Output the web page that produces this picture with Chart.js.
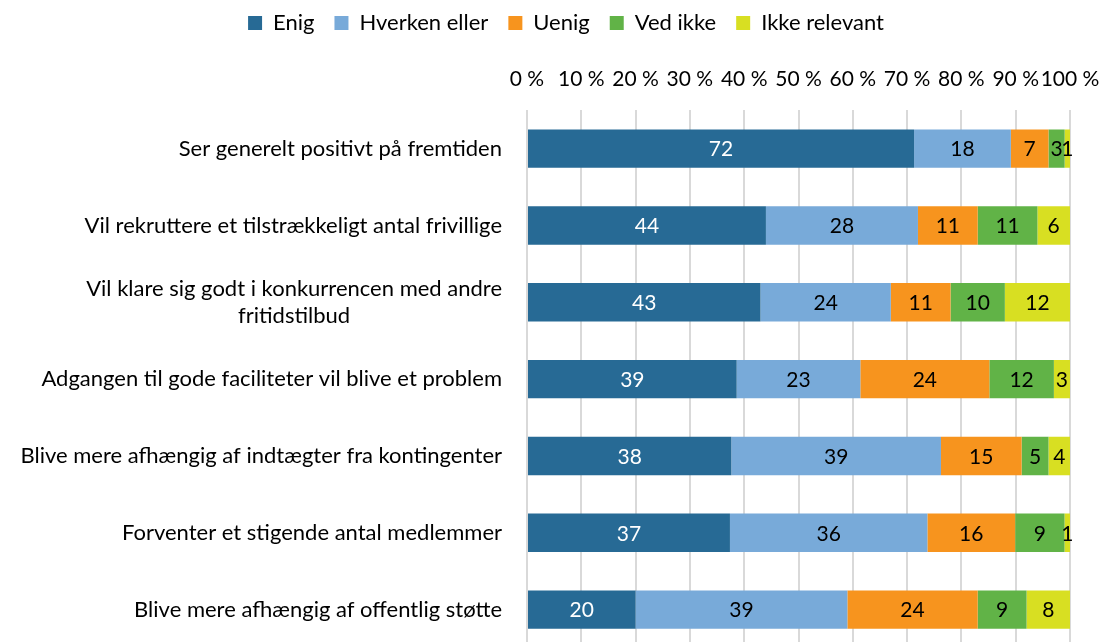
<!DOCTYPE html>
<html>
<head>
<meta charset="utf-8">
<script src="https://cdn.jsdelivr.net/npm/chart.js@4"></script>
<style>
  html, body { margin: 0; padding: 0; background: #fff; overflow: hidden; }
  #wrap { width: 1102px; height: 648px; position: relative; }
</style>
</head>
<body>
<div id="wrap"><canvas id="chart"></canvas></div>
<script>
const categories = [
    'Ser generelt positivt på fremtiden',
    'Vil rekruttere et tilstrækkeligt antal frivillige',
    ['Vil klare sig godt i konkurrencen med andre', 'fritidstilbud'],
    'Adgangen til gode faciliteter vil blive et problem',
    'Blive mere afhængig af indtægter fra kontingenter',
    'Forventer et stigende antal medlemmer',
    'Blive mere afhængig af offentlig støtte'
];
const seriesNames = ['Enig', 'Hverken eller', 'Uenig', 'Ved ikke', 'Ikke relevant'];
const enig = [72, 44, 43, 39, 38, 37, 20];
const hverken = [18, 28, 24, 23, 39, 36, 39];
const uenig = [7, 11, 11, 24, 15, 16, 24];
const vedIkke = [3, 11, 10, 12, 5, 9, 9];
const ikkeRelevant = [1, 6, 12, 3, 4, 1, 8];
const tickLabels = ['0 %', '10 %', '20 %', '30 %', '40 %', '50 %', '60 %', '70 %', '80 %', '90 %', '100 %'];

const colors = ['#276a95', '#78aad9', '#f7941e', '#61b347', '#d8df22'];
const FONT = 'Lato, "Open Sans", sans-serif';

const raw = [enig, hverken, uenig, vedIkke, ikkeRelevant];
// 100 % stacked: each row scaled to its own total, like the original
const totals = categories.map((c, i) => raw.reduce((s, arr) => s + arr[i], 0));

const datasets = raw.map((arr, k) => ({
    label: seriesNames[k],
    data: arr.map((v, i) => v / totals[i] * 100),
    rawValues: arr,
    backgroundColor: colors[k],
    borderWidth: 0,
    barPercentage: 0.5,
    categoryPercentage: 1
}));

// value labels inside the bars
const barLabels = {
    id: 'barLabels',
    afterDatasetsDraw(chart) {
        const ctx = chart.ctx;
        ctx.save();
        ctx.font = '21px ' + FONT;
        ctx.textAlign = 'center';
        ctx.textBaseline = 'middle';
        chart.data.datasets.forEach((ds, k) => {
            const meta = chart.getDatasetMeta(k);
            meta.data.forEach((bar, i) => {
                const cx = (bar.x + bar.base) / 2;
                ctx.fillStyle = k === 0 ? '#ffffff' : '#000000';
                ctx.fillText(String(ds.rawValues[i]), cx, bar.y + 1);
            });
        });
        ctx.restore();
    }
};

// category labels, lines centred on each other, block right aligned
const catLabels = {
    id: 'catLabels',
    afterDraw(chart) {
        const ctx = chart.ctx;
        const yScale = chart.scales.y;
        ctx.save();
        ctx.font = '22px ' + FONT;
        ctx.fillStyle = '#000';
        ctx.textBaseline = 'middle';
        ctx.textAlign = 'center';
        const right = 502;
        categories.forEach((lab, i) => {
            const y = yScale.getPixelForValue(i);
            const lines = Array.isArray(lab) ? lab : [lab];
            const maxW = Math.max(...lines.map(l => ctx.measureText(l).width));
            const lh = 27;
            const y0 = y - (lines.length - 1) * lh / 2;
            lines.forEach((l, j) => {
                ctx.fillText(l, right - maxW / 2, y0 + j * lh);
            });
        });
        ctx.restore();
    }
};

new Chart(document.getElementById('chart'), {
    type: 'bar',
    data: { labels: categories, datasets: datasets },
    options: {
        indexAxis: 'y',
        responsive: true,
        maintainAspectRatio: false,
        animation: false,
        layout: { padding: { left: 30, right: 0, top: -8, bottom: 0 } },
        plugins: {
            legend: {
                position: 'top',
                labels: {
                    font: { family: FONT, size: 22 },
                    color: '#000',
                    boxWidth: 14,
                    boxHeight: 14,
                    padding: 20
                }
            },
            tooltip: { enabled: false }
        },
        scales: {
            x: {
                position: 'top',
                stacked: true,
                min: 0,
                max: 100,
                grid: { color: '#d9d9d9', lineWidth: 2, drawTicks: false },
                border: { display: false },
                ticks: {
                    stepSize: 10,
                    padding: 18.5,
                    color: '#000',
                    maxRotation: 0,
                    minRotation: 0,
                    autoSkip: false,
                    font: { family: FONT, size: 21 },
                    callback: (v, idx) => tickLabels[idx]
                },
                afterFit: scale => {
                    scale.height += 4;
                    scale.paddingRight = 32;
                }
            },
            y: {
                stacked: true,
                grid: { display: false },
                border: { display: false },
                ticks: { display: false },
                afterFit: scale => { scale.width = 497; }
            }
        }
    },
    plugins: [barLabels, catLabels]
});
</script>
</body>
</html>
